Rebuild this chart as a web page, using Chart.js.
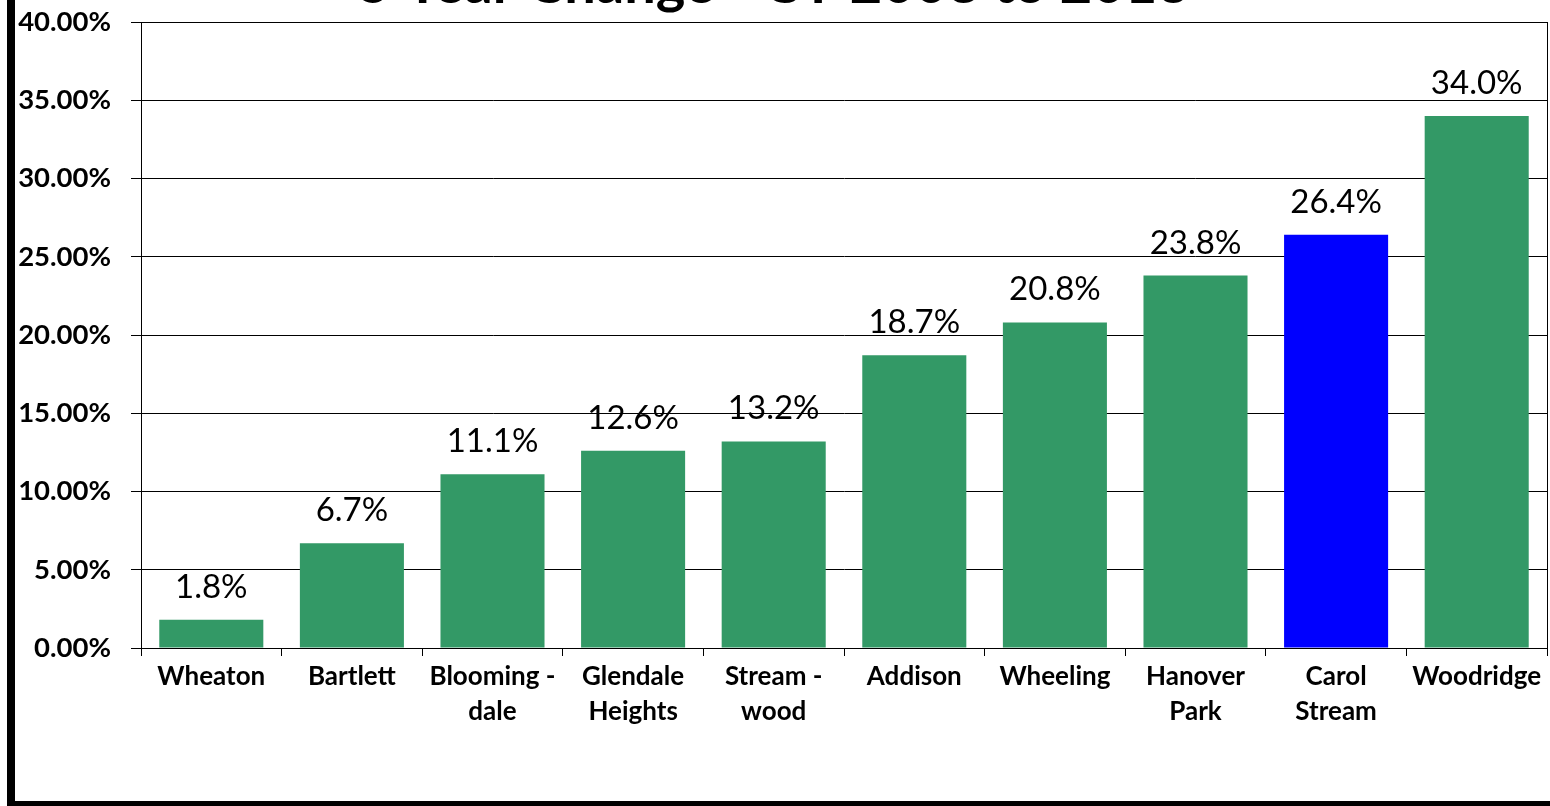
<!DOCTYPE html>
<html>
<head>
<meta charset="utf-8">
<script src="https://cdn.jsdelivr.net/npm/chart.js@4.4.1/dist/chart.umd.min.js"></script>
<style>
  html, body { margin: 0; padding: 0; background: #fff; }
  #wrap { position: relative; width: 1550px; height: 806px; }
</style>
</head>
<body>
<div id="wrap"><canvas id="c" width="1550" height="806"></canvas></div>
<script>
// Percent change by community
const categories = [
  'Wheaton', 'Bartlett', ['Blooming -', 'dale'], ['Glendale', 'Heights'], ['Stream -', 'wood'],
  'Addison', 'Wheeling', ['Hanover', 'Park'], ['Carol', 'Stream'], 'Woodridge'
];
const changePct = [1.8, 6.7, 11.1, 12.6, 13.2, 18.7, 20.8, 23.8, 26.4, 34.0];
const barColors = ['#339966', '#339966', '#339966', '#339966', '#339966',
                   '#339966', '#339966', '#339966', '#0000FF', '#339966'];
const yTicks = [0, 5, 10, 15, 20, 25, 30, 35, 40];
const titleText = '5 Year Change - CY 2008 to 2013';

const FONT = 'Lato, "Open Sans", sans-serif';

// Frame, title and value labels drawn on the canvas
const decor = {
  id: 'decor',
  beforeDraw(chart) {
    const ctx = chart.ctx;
    ctx.save();
    ctx.fillStyle = '#fff';
    ctx.fillRect(0, 0, chart.width, chart.height);
    ctx.restore();
  },
  afterDatasetsDraw(chart) {
    const ctx = chart.ctx;
    const meta = chart.getDatasetMeta(0);
    ctx.save();
    ctx.fillStyle = '#000';
    ctx.font = '33px ' + FONT;
    ctx.textAlign = 'center';
    ctx.textBaseline = 'alphabetic';
    meta.data.forEach((bar, i) => {
      ctx.fillText(changePct[i].toFixed(1) + '%', bar.x, bar.y - 22);
    });
    ctx.restore();
  },
  afterDraw(chart) {
    const ctx = chart.ctx;
    const a = chart.chartArea;
    ctx.save();
    // plot area border
    ctx.strokeStyle = '#000';
    ctx.lineWidth = 1;
    ctx.strokeRect(Math.round(a.left) + 0.5, Math.round(a.top) + 0.5,
                   Math.round(a.right - a.left), Math.round(a.bottom - a.top));
    // outer frame
    ctx.fillStyle = '#000';
    ctx.fillRect(7, 0, 8, chart.height);
    ctx.fillRect(7, 801, chart.width - 7, 5);
    // title
    ctx.font = 'bold 56px ' + FONT;
    ctx.textAlign = 'center';
    ctx.textBaseline = 'alphabetic';
    ctx.fillText(titleText, 774, 3);
    ctx.restore();
  }
};

new Chart(document.getElementById('c'), {
  type: 'bar',
  data: {
    labels: categories,
    datasets: [{
      data: changePct,
      backgroundColor: barColors,
      borderWidth: 0,
      categoryPercentage: 1,
      barPercentage: 0.74
    }]
  },
  options: {
    responsive: false,
    animation: false,
    events: [],
    layout: { padding: { left: 0, right: 3, top: 22, bottom: 0 } },
    plugins: { legend: { display: false }, title: { display: false }, tooltip: { enabled: false } },
    scales: {
      x: {
        grid: { offset: true, drawOnChartArea: false, drawTicks: true, tickLength: 8, color: '#000', lineWidth: 1 },
        border: { display: true, color: '#000', width: 1 },
        ticks: {
          color: '#000',
          font: { family: FONT, size: 26, weight: 'bold', lineHeight: 1.35 },
          padding: 3,
          maxRotation: 0,
          autoSkip: false
        },
        afterFit(s) { s.height = 158; }
      },
      y: {
        min: 0, max: 40,
        afterBuildTicks(s) { s.ticks = yTicks.map(v => ({ value: v })); },
        grid: { color: '#000', lineWidth: 1, tickLength: 10, drawTicks: true },
        border: { display: true, color: '#000', width: 1 },
        ticks: {
          color: '#000',
          font: { family: FONT, size: 27.5, weight: 'bold' },
          padding: 20,
          callback: v => v.toFixed(2) + '%'
        },
        afterFit(s) { s.width = 141; s.paddingTop = 0; s.paddingBottom = 0; }
      }
    }
  },
  plugins: [decor]
});
</script>
</body>
</html>
